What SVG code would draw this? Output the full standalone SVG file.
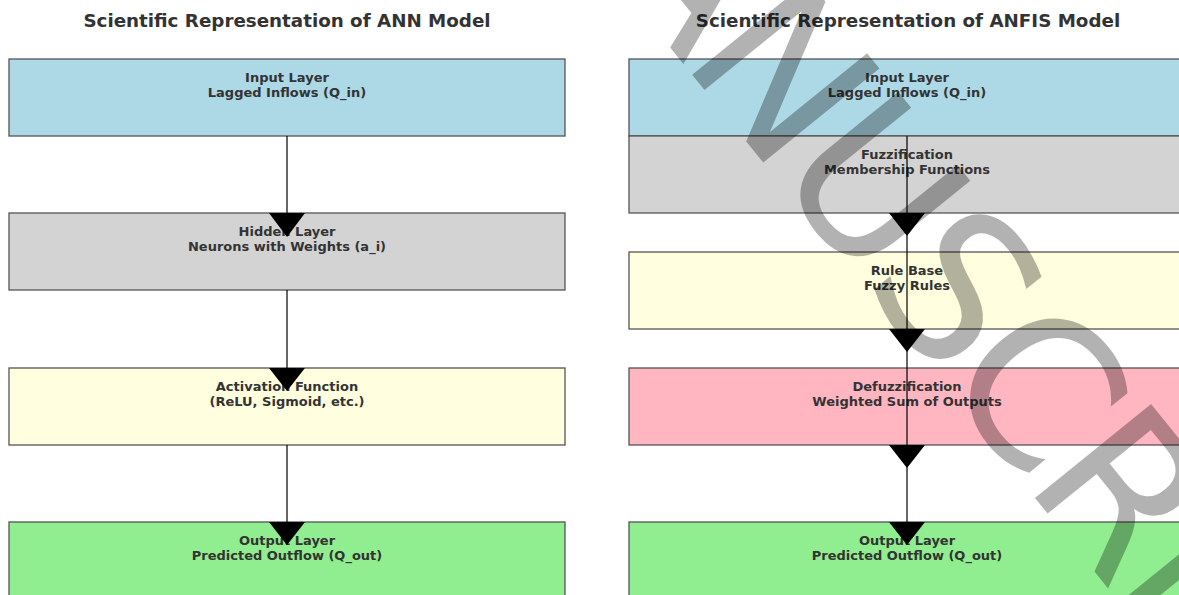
<svg xmlns="http://www.w3.org/2000/svg" width="1179" height="595" viewBox="0 0 1179 595">
<style>
.box{stroke:#555;stroke-width:1.3}
.lbl{font-family:"DejaVu Sans",sans-serif;font-weight:bold;font-size:13px;fill:#333;text-anchor:middle}
.title{font-family:"DejaVu Sans",sans-serif;font-weight:bold;font-size:18.3px;fill:#333;text-anchor:middle}
.conn{stroke:#000;stroke-width:1.2;fill:none}
.head{fill:#000}
.wm{font-family:"DejaVu Sans",sans-serif;font-size:205px;letter-spacing:-8px;fill:#000;fill-opacity:0.3}
</style>
<rect width="1179" height="595" fill="#fff"/>
<text class="title" x="287" y="26.5">Scientific Representation of ANN Model</text>
<text class="title" x="908" y="26.5">Scientific Representation of ANFIS Model</text>

<g id="ann-input"><rect class="box" x="9" y="59" width="556" height="77" fill="#ADD8E6"/><text class="lbl" x="287" y="81.5">Input Layer</text><text class="lbl" x="287" y="96.5">Lagged Inflows (Q_in)</text></g>
<g id="ann-hidden"><rect class="box" x="9" y="213" width="556" height="77" fill="#D3D3D3"/><text class="lbl" x="287" y="235.5">Hidden Layer</text><text class="lbl" x="287" y="250.5">Neurons with Weights (a_i)</text></g>
<g id="ann-activation"><rect class="box" x="9" y="368" width="556" height="77" fill="#FFFFE0"/><text class="lbl" x="287" y="390.5">Activation Function</text><text class="lbl" x="287" y="405.5">(ReLU, Sigmoid, etc.)</text></g>
<g id="ann-output"><rect class="box" x="9" y="522" width="556" height="77" fill="#90EE90"/><text class="lbl" x="287" y="545">Output Layer</text><text class="lbl" x="287" y="560">Predicted Outflow (Q_out)</text></g>

<g id="anfis-input"><rect class="box" x="629" y="59" width="556" height="77" fill="#ADD8E6"/><text class="lbl" x="907" y="81.5">Input Layer</text><text class="lbl" x="907" y="96.5">Lagged Inflows (Q_in)</text></g>
<g id="anfis-fuzz"><rect class="box" x="629" y="136" width="556" height="77" fill="#D3D3D3"/><text class="lbl" x="907" y="159">Fuzzification</text><text class="lbl" x="907" y="174">Membership Functions</text></g>
<g id="anfis-rule"><rect class="box" x="629" y="252" width="556" height="77" fill="#FFFFE0"/><text class="lbl" x="907" y="275">Rule Base</text><text class="lbl" x="907" y="290">Fuzzy Rules</text></g>
<g id="anfis-defuzz"><rect class="box" x="629" y="368" width="556" height="77" fill="#FFB6C1"/><text class="lbl" x="907" y="390.5">Defuzzification</text><text class="lbl" x="907" y="405.5">Weighted Sum of Outputs</text></g>
<g id="anfis-output"><rect class="box" x="629" y="522" width="556" height="77" fill="#90EE90"/><text class="lbl" x="907" y="545">Output Layer</text><text class="lbl" x="907" y="560">Predicted Outflow (Q_out)</text></g>

<g id="connectors">
<line class="conn" x1="287" y1="136" x2="287" y2="214"/>
<polygon class="head" points="269,213 305,213 287,237"/>
<line class="conn" x1="287" y1="290" x2="287" y2="369"/>
<polygon class="head" points="269,368 305,368 287,391"/>
<line class="conn" x1="287" y1="445" x2="287" y2="523"/>
<polygon class="head" points="269,522 305,522 287,545"/>
<line class="conn" x1="907" y1="136" x2="907" y2="523"/>
<polygon class="head" points="889,213 925,213 907,236"/>
<polygon class="head" points="889,329 925,329 907,352"/>
<polygon class="head" points="889,445 925,445 907,468"/>
<polygon class="head" points="889,522 925,522 907,545"/>
</g>

<text class="wm" transform="translate(490,-175) rotate(51)">MANUSCRIPT</text>
</svg>
